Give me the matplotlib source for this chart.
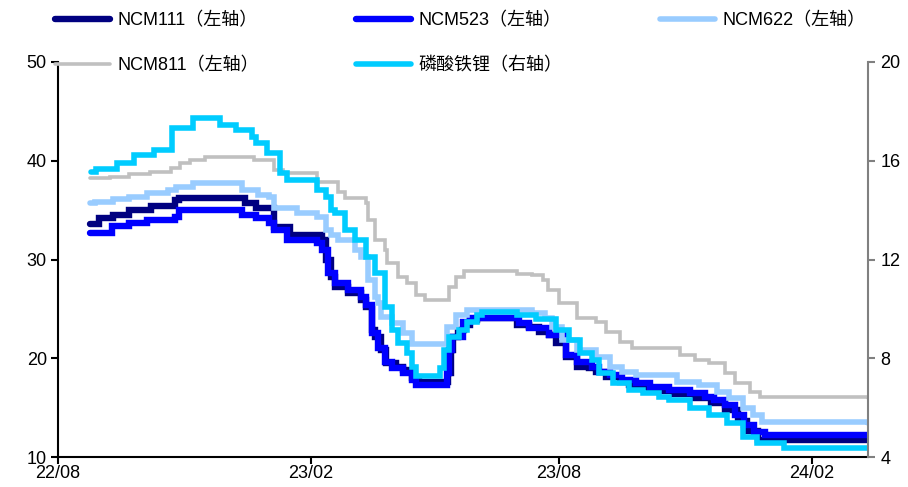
import pandas as pd
import matplotlib
matplotlib.use('Agg')
import matplotlib.pyplot as plt
import matplotlib.dates as mdates

plt.rcParams['font.family'] = ['Liberation Sans', 'Noto Sans CJK SC', 'DejaVu Sans']

# NCM811 (left axis)
ncm811_dates = ['2022-08-24', '2022-09-08', '2022-09-22', '2022-10-07', '2022-10-22', '2022-10-29',
                '2022-11-05', '2022-11-16', '2022-12-22', '2023-01-05', '2023-01-12', '2023-02-06',
                '2023-02-21', '2023-02-26', '2023-03-13', '2023-03-15', '2023-03-20', '2023-03-27',
                '2023-03-29', '2023-04-06', '2023-04-12', '2023-04-19', '2023-04-25', '2023-05-13',
                '2023-05-18', '2023-05-24', '2023-07-01', '2023-07-12', '2023-07-20', '2023-07-24',
                '2023-08-01', '2023-08-14', '2023-08-28', '2023-09-04', '2023-09-14', '2023-09-23',
                '2023-10-28', '2023-11-08', '2023-11-18', '2023-11-30', '2023-12-07', '2023-12-18',
                '2023-12-25', '2024-03-13']
ncm811 = [38.25, 38.4, 38.7, 38.9, 39.3, 39.8,
          40.1, 40.4, 40.1, 39.1, 38.8, 37.8,
          36.8, 36.2, 35.7, 34.0, 32.0, 31.0,
          29.6, 28.2, 27.6, 26.4, 25.9, 27.2,
          28.2, 28.8, 28.5, 28.4, 27.9, 26.9,
          25.6, 24.1, 23.7, 22.7, 21.6, 21.0,
          20.3, 19.8, 19.5, 18.5, 17.5, 16.6,
          16.1, 16.0]

# NCM111 (left axis)
ncm111_dates = ['2022-08-24', '2022-08-31', '2022-09-10', '2022-09-22', '2022-10-08', '2022-10-25',
                '2022-10-28', '2022-12-15', '2022-12-23', '2023-01-05', '2023-01-17', '2023-02-09',
                '2023-02-12', '2023-02-16', '2023-02-19', '2023-02-28', '2023-03-10', '2023-03-13',
                '2023-03-18', '2023-03-20', '2023-03-24', '2023-03-28', '2023-04-04', '2023-04-09',
                '2023-04-16', '2023-04-21', '2023-05-12', '2023-05-14', '2023-05-16', '2023-05-19',
                '2023-05-24', '2023-05-28', '2023-06-02', '2023-07-01', '2023-07-10', '2023-07-17',
                '2023-07-25', '2023-07-30', '2023-08-06', '2023-08-14', '2023-08-23', '2023-08-28',
                '2023-09-04', '2023-09-14', '2023-09-21', '2023-10-01', '2023-10-06', '2023-10-24',
                '2023-11-08', '2023-11-20', '2023-11-30', '2023-12-09', '2023-12-16', '2023-12-24',
                '2024-03-13']
ncm111 = [33.6, 34.2, 34.5, 35.0, 35.4, 36.0,
          36.2, 35.7, 35.2, 33.3, 32.5, 32.0,
          29.9, 28.2, 27.2, 26.6, 25.9, 25.2,
          22.9, 22.2, 20.8, 19.5, 19.1, 18.8,
          18.0, 17.6, 18.5, 20.8, 22.2, 22.9,
          23.4, 23.9, 24.1, 23.4, 23.2, 22.7,
          22.4, 21.5, 20.1, 19.1, 19.0, 18.6,
          18.1, 17.6, 17.3, 17.0, 16.7, 16.4,
          16.0, 15.5, 14.8, 13.6, 12.6, 11.7,
          11.7]

# NCM523 (left axis)
ncm523_dates = ['2022-08-24', '2022-09-09', '2022-09-22', '2022-10-05', '2022-10-25', '2022-10-28',
                '2022-12-13', '2022-12-23', '2023-01-02', '2023-01-05', '2023-01-15', '2023-02-06',
                '2023-02-09', '2023-02-14', '2023-02-19', '2023-02-28', '2023-03-10', '2023-03-13',
                '2023-03-18', '2023-03-22', '2023-03-27', '2023-04-01', '2023-04-09', '2023-04-16',
                '2023-04-19', '2023-05-11', '2023-05-13', '2023-05-15', '2023-05-23', '2023-05-28',
                '2023-07-03', '2023-07-10', '2023-07-25', '2023-08-06', '2023-08-14', '2023-08-25',
                '2023-08-30', '2023-09-07', '2023-09-16', '2023-09-26', '2023-10-06', '2023-10-20',
                '2023-11-04', '2023-11-15', '2023-11-22', '2023-11-30', '2023-12-07', '2023-12-14',
                '2023-12-21', '2023-12-29', '2024-03-13']
ncm523 = [32.7, 33.4, 33.7, 34.0, 34.3, 35.0,
          34.5, 34.2, 33.7, 33.0, 32.0, 31.7,
          31.0, 28.6, 27.6, 26.9, 26.2, 25.4,
          22.6, 21.0, 19.6, 19.0, 18.5, 17.8,
          17.3, 18.5, 20.8, 22.2, 23.7, 24.1,
          23.6, 23.1, 22.4, 20.3, 19.6, 19.1,
          18.6, 18.3, 17.8, 17.5, 17.1, 16.8,
          16.5, 16.1, 15.8, 15.3, 14.3, 13.2,
          12.5, 12.2, 12.2]

# NCM622 (left axis)
ncm622_dates = ['2022-08-24', '2022-08-28', '2022-09-10', '2022-09-22', '2022-10-05', '2022-10-20',
                '2022-10-26', '2022-11-07', '2022-12-13', '2022-12-25', '2023-01-02', '2023-01-05',
                '2023-01-22', '2023-02-06', '2023-02-12', '2023-02-16', '2023-02-21', '2023-03-05',
                '2023-03-10', '2023-03-15', '2023-03-20', '2023-03-22', '2023-03-24', '2023-04-01',
                '2023-04-09', '2023-04-16', '2023-05-11', '2023-05-18', '2023-05-26', '2023-07-12',
                '2023-07-22', '2023-07-27', '2023-08-03', '2023-08-14', '2023-08-28', '2023-09-07',
                '2023-09-16', '2023-09-26', '2023-10-26', '2023-11-11', '2023-11-24', '2023-12-03',
                '2023-12-13', '2023-12-20', '2023-12-27', '2024-03-13']
ncm622 = [35.7, 35.8, 36.1, 36.3, 36.7, 37.0,
          37.3, 37.7, 37.0, 36.5, 36.3, 35.2,
          34.7, 34.3, 33.0, 32.5, 32.0, 31.0,
          30.3, 27.9, 26.2, 25.6, 24.2, 23.6,
          22.6, 21.4, 23.2, 24.4, 24.9, 24.6,
          24.1, 23.2, 21.8, 20.8, 20.1, 19.1,
          18.6, 18.3, 17.6, 17.3, 16.6, 16.0,
          15.0, 14.3, 13.5, 13.4]

# 磷酸铁锂 (right axis)
lfp_dates = ['2022-08-25', '2022-08-29', '2022-09-13', '2022-09-25', '2022-10-10', '2022-10-23',
             '2022-11-07', '2022-11-27', '2022-12-09', '2022-12-20', '2022-12-23', '2022-12-31',
             '2023-01-10', '2023-01-15', '2023-02-06', '2023-02-12', '2023-02-16', '2023-02-19',
             '2023-02-26', '2023-03-05', '2023-03-13', '2023-03-20', '2023-03-27', '2023-04-01',
             '2023-04-06', '2023-04-12', '2023-04-16', '2023-04-19', '2023-05-06', '2023-05-09',
             '2023-05-13', '2023-05-20', '2023-05-26', '2023-06-02', '2023-06-06', '2023-07-01',
             '2023-07-15', '2023-07-30', '2023-08-08', '2023-08-16', '2023-08-25', '2023-08-30',
             '2023-09-09', '2023-09-21', '2023-10-01', '2023-10-13', '2023-10-20', '2023-11-04',
             '2023-11-18', '2023-12-01', '2023-12-13', '2023-12-23', '2024-01-12', '2024-03-13']
lfp = [15.54, 15.66, 15.9, 16.23, 16.43, 17.33,
       17.73, 17.45, 17.24, 16.96, 16.7, 16.3,
       15.5, 15.22, 14.81, 14.55, 14.0, 13.88,
       13.19, 12.8, 12.1, 11.45, 10.08, 9.14,
       8.62, 8.21, 7.65, 7.28, 7.6, 8.33,
       8.86, 9.14, 9.47, 9.75, 9.87, 9.75,
       9.6, 9.14, 8.74, 8.21, 7.93, 7.4,
       7.0, 6.71, 6.59, 6.43, 6.31, 5.98,
       5.7, 5.38, 4.81, 4.57, 4.36, 4.36]

fig = plt.figure(figsize=(9.08, 4.87), dpi=100)
ax1 = fig.add_axes([58/908, 30/487, 810/908, 395/487])
ax2 = ax1.twinx()

kw = dict(drawstyle='steps-post', solid_capstyle='round', solid_joinstyle='miter')
l111, = ax1.plot(pd.to_datetime(ncm111_dates), ncm111, color='#000080', lw=4.6, label='NCM111（左轴）', **kw)
l523, = ax1.plot(pd.to_datetime(ncm523_dates), ncm523, color='#0000FF', lw=4.6, label='NCM523（左轴）', **kw)
l622, = ax1.plot(pd.to_datetime(ncm622_dates), ncm622, color='#99CCFF', lw=4.0, label='NCM622（左轴）', **kw)
l811, = ax1.plot(pd.to_datetime(ncm811_dates), ncm811, color='#C0C0C0', lw=2.6, label='NCM811（左轴）', **kw)
llfp, = ax2.plot(pd.to_datetime(lfp_dates), lfp, color='#00CCFF', lw=4.0, label='磷酸铁锂（右轴）', **kw)

ax1.set_ylim(10, 50)
ax1.set_yticks([10, 20, 30, 40, 50])
ax2.set_ylim(4, 20)
ax2.set_yticks([4, 8, 12, 16, 20])
ax1.set_xlim(pd.Timestamp('2022-08-01'), pd.Timestamp('2024-03-13'))
ax1.xaxis.set_major_locator(mdates.MonthLocator(bymonth=[2, 8]))
ax1.xaxis.set_major_formatter(mdates.DateFormatter('%y/%m'))

for a in (ax1, ax2):
    a.spines['top'].set_visible(False)
ax1.spines['right'].set_visible(False)
ax2.spines['left'].set_visible(False)
ax2.spines['bottom'].set_visible(False)
ax1.spines['left'].set_linewidth(1.5)
ax1.spines['bottom'].set_linewidth(1.5)
ax2.spines['right'].set_color('#808080')
ax2.spines['right'].set_linewidth(1.5)
ax1.tick_params(axis='y', direction='out', length=5, width=1.5, labelsize=13, pad=3)
ax1.tick_params(axis='x', direction='out', length=5, width=1.5, labelsize=13, pad=1)
ax2.tick_params(axis='y', direction='out', length=5, width=1.5, color='#808080', labelsize=13, pad=4)

fig.legend(handles=[l111, l811, l523, llfp, l622], ncol=3, loc='upper left',
           bbox_to_anchor=(55/908, 1 - 12/487), frameon=False, fontsize=13,
           handlelength=3.05, handletextpad=0.4, columnspacing=5.4, labelspacing=1.55,
           borderaxespad=0, borderpad=0)

fig.savefig('out.png', dpi=100)
